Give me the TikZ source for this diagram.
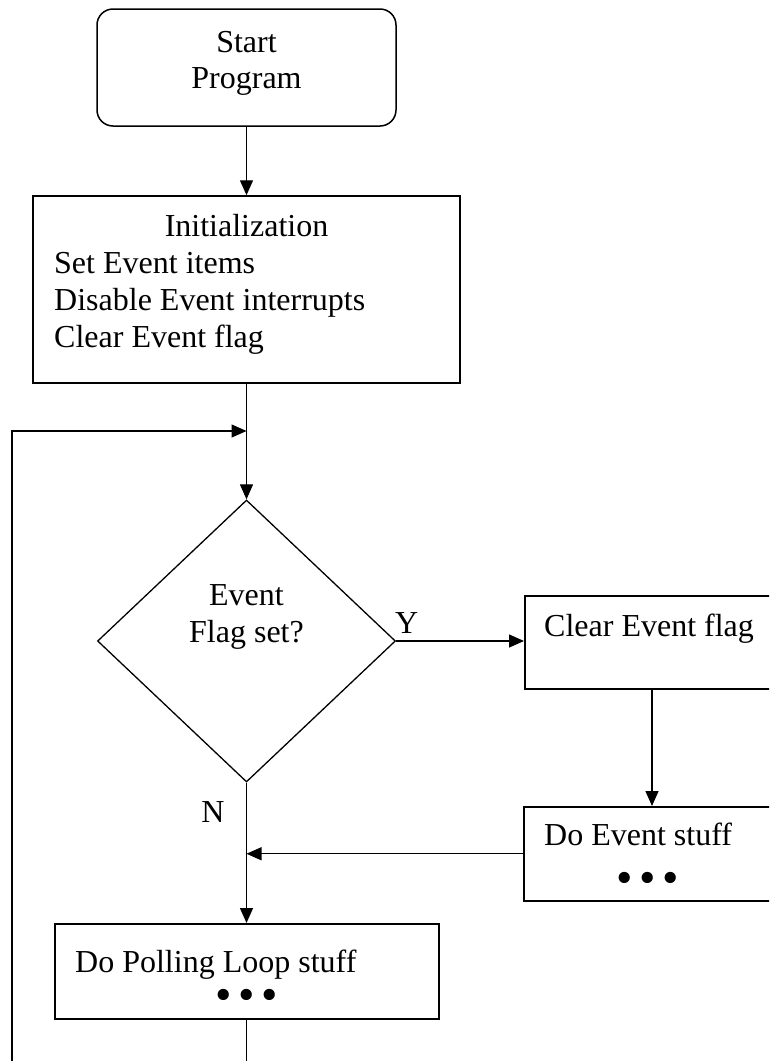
\documentclass[tikz,border=0pt]{standalone}
\usepackage{fontspec}
\setmainfont{Liberation Serif}
\usetikzlibrary{arrows.meta,shapes.geometric}
\begin{document}
\begin{tikzpicture}[x=1pt,y=-1pt,
  box/.style={draw, line width=1.5pt, inner sep=0pt},
  txt/.style={inner sep=0pt, font=\fontsize{32}{37}\selectfont},
  dots/.style={inner sep=0pt, font=\fontsize{47}{47}\selectfont},
  arr/.style={-{Triangle[length=15pt,width=13pt]}, line width=1.3pt},
  ln/.style={line width=1.3pt}]
\clip (0,0) rectangle (769,1061);

% boxes
\node[box, rounded corners=16pt, minimum width=299pt, minimum height=117pt] (start) at (246.5,67.5) {};
\node[box, minimum width=427pt, minimum height=187pt] (init) at (246.5,289.5) {};
\node[draw, diamond, line width=1.3pt, inner sep=0pt, minimum width=298pt, minimum height=282pt] (dec) at (246.5,641) {};
\node[box, minimum width=280pt, minimum height=93pt, anchor=north west] (clear) at (524,595) {};
\node[box, minimum width=280pt, minimum height=94pt, anchor=north west] (event) at (523,806) {};
\node[box, minimum width=384pt, minimum height=95pt, anchor=north west] (poll) at (54,923) {};

% texts
\node[txt, anchor=base] (tstart) at (246.5,52) {Start};
\node[txt, anchor=base] (tprog) at (246.5,88) {Program};
\node[txt, anchor=base] (tinit) at (246.5,236) {Initialization};
\node[txt, anchor=base west] (tset) at (54,273) {Set Event items};
\node[txt, anchor=base west] (tdis) at (54,310) {Disable Event interrupts};
\node[txt, anchor=base west] (tclr) at (54,347) {Clear Event flag};
\node[txt, anchor=base] (tev) at (246.5,605) {Event};
\node[txt, anchor=base] (tflag) at (246.5,642) {Flag set?};
\node[txt, anchor=base west] (ty) at (395,633) {Y};
\node[txt, anchor=base] (tn) at (213,822) {N};
\node[txt, anchor=base west] (tclear) at (544,636) {Clear Event flag};
\node[txt, anchor=base west] (tdo) at (544,845) {Do Event stuff};
\node[dots] (dotsev) at (648,883) {•\hspace{6.5pt}•\hspace{6.5pt}•};
\node[txt, anchor=base west] (tpoll) at (75,972) {Do Polling Loop stuff};
\node[dots] (dotspoll) at (247,1000) {•\hspace{6.5pt}•\hspace{6.5pt}•};

% connectors
\coordinate (loopbot) at (12,1070);
\coordinate (loopcorner) at (12,431);
\coordinate (loopin) at (init.south |- loopcorner);
\coordinate (merge) at (dec.south |- event.west);
\coordinate (pollout) at (poll.south |- loopbot);

\draw[arr] (start) -- (init);
\draw[arr] (init) -- (dec);
\draw[arr] (loopbot) -- (loopcorner) -- (loopin);
\draw[arr] (dec.east) -- (dec.east -| clear.west);
\draw[arr] ([xshift=128pt]clear.south west) -- ([xshift=128pt]clear.south west |- event.north);
\draw[arr] (dec.south) -- (poll.north -| dec.south);
\draw[arr] (event.west) -- (merge);
\draw[ln] (poll.south) -- (pollout);
\end{tikzpicture}
\end{document}
